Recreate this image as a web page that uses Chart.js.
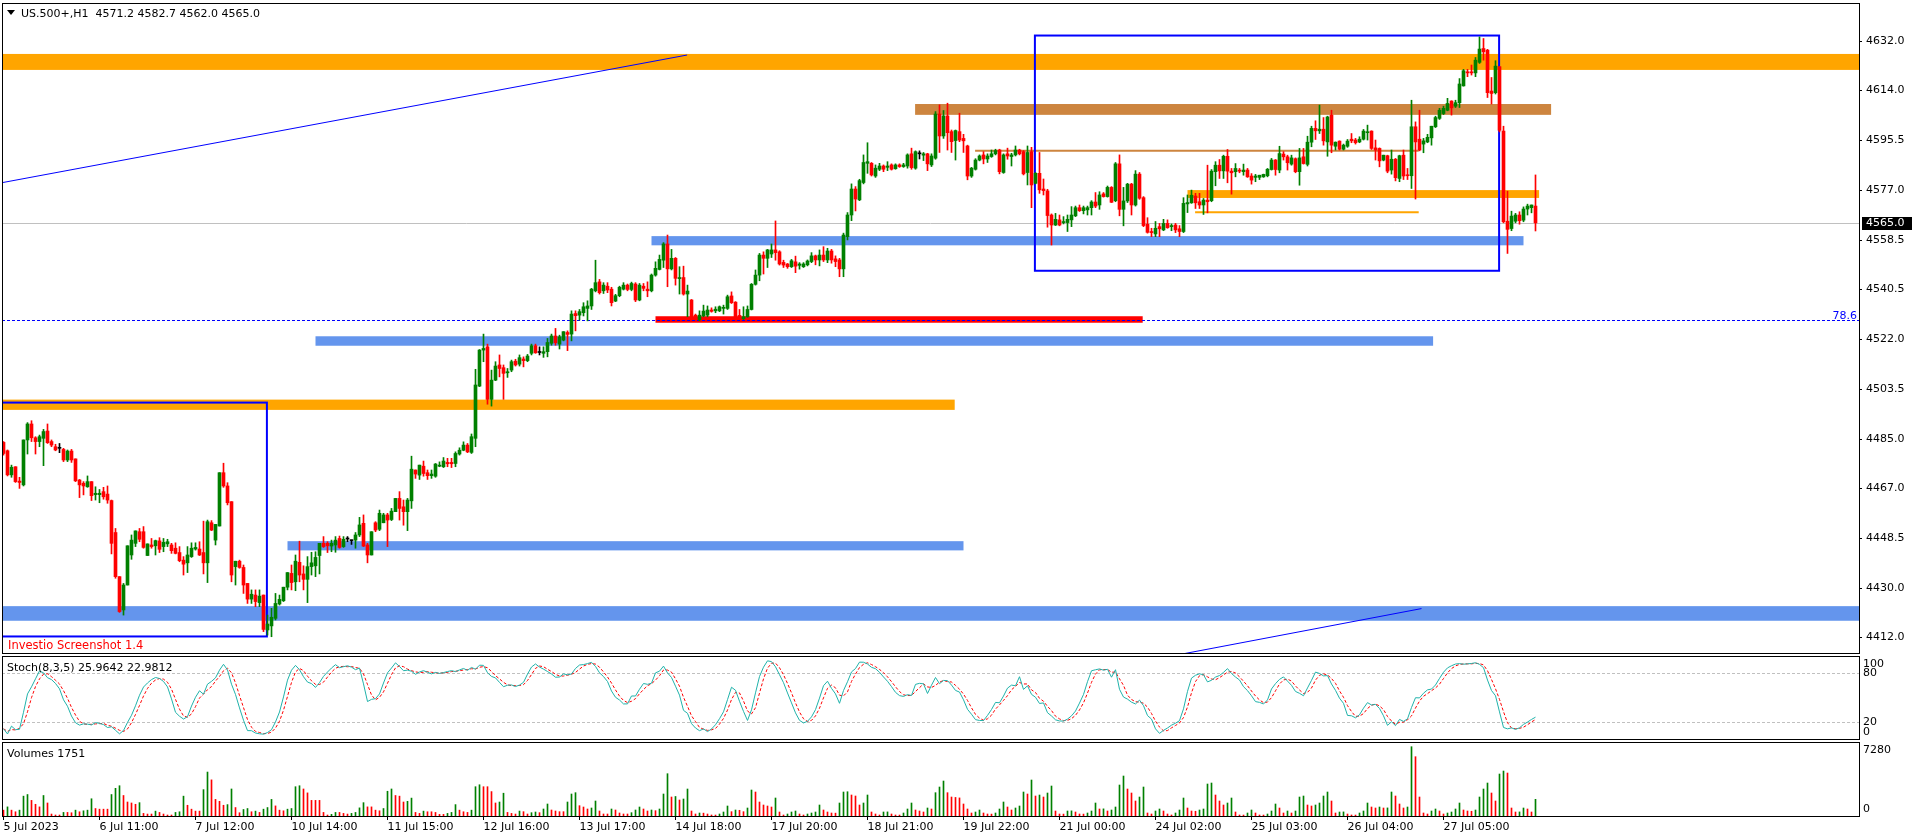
<!DOCTYPE html>
<html>
<head>
<meta charset="utf-8">
<title>US.500+,H1</title>
<script src="https://cdn.jsdelivr.net/npm/chart.js@4.4.1/dist/chart.umd.min.js"></script>
<style>
  html, body { margin: 0; padding: 0; background: #fff; }
  #wrap { position: relative; width: 1916px; height: 840px; overflow: hidden; background: #fff; }
  #wrap canvas { position: absolute; left: 0; }
</style>
</head>
<body>
<div id="wrap">
  <canvas id="priceChart" width="1916" height="655" style="top:0"></canvas>
  <canvas id="stochChart" width="1916" height="87" style="top:654px"></canvas>
  <canvas id="volumeChart" width="1916" height="99" style="top:741px"></canvas>
</div>
<script>
// H1 candles, oldest first: [open, high, low, close]
const candles = [
  [4483.9,4484.2,4479.2,4479.8],[4480.8,4481.1,4471.5,4471.9],[4471.9,4475.5,4471.0,4474.7],[4474.9,4474.9,4469.1,4469.4],
  [4469.6,4471.0,4466.9,4469.1],[4468.2,4484.8,4467.8,4484.8],[4484.8,4491.2,4479.6,4490.7],[4490.7,4491.9,4484.2,4485.6],
  [4485.6,4486.0,4479.6,4484.2],[4484.2,4486.6,4482.3,4486.0],[4485.4,4488.7,4475.3,4487.9],[4488.1,4490.7,4483.5,4483.8],
  [4484.2,4484.8,4482.3,4482.9],[4482.3,4483.2,4480.8,4481.1],[4481.7,4483.5,4480.1,4481.7],[4481.3,4481.7,4476.8,4477.4],
  [4477.4,4481.1,4476.8,4480.7],[4480.7,4481.3,4476.5,4477.4],[4477.8,4477.8,4469.4,4469.7],[4470.0,4470.2,4463.5,4468.2],
  [4468.8,4469.4,4464.5,4467.8],[4467.5,4471.5,4467.3,4469.4],[4469.4,4469.4,4462.4,4464.2],[4464.6,4467.5,4462.6,4465.1],
  [4464.6,4466.5,4461.6,4465.1],[4465.7,4467.3,4462.9,4463.8],[4464.8,4467.8,4461.4,4462.6],[4462.4,4462.6,4442.7,4446.6],
  [4450.6,4452.1,4433.7,4434.3],[4434.3,4434.3,4421.1,4421.4],[4422.0,4431.8,4420.1,4431.2],[4431.2,4445.7,4431.2,4445.7],
  [4442.3,4449.7,4440.7,4447.8],[4446.6,4451.2,4445.4,4451.2],[4450.9,4452.1,4447.2,4448.1],[4450.9,4452.8,4444.8,4445.1],
  [4442.1,4446.4,4442.1,4446.4],[4446.0,4448.4,4444.8,4445.4],[4445.7,4447.8,4442.3,4447.6],[4447.5,4448.7,4443.2,4444.4],
  [4445.4,4448.4,4443.5,4447.0],[4446.4,4448.1,4445.4,4447.2],[4446.0,4446.6,4442.9,4443.9],[4444.8,4446.8,4442.7,4442.9],
  [4443.2,4445.4,4439.8,4440.2],[4440.4,4441.7,4434.9,4438.9],[4439.4,4445.4,4435.8,4442.3],[4441.7,4446.8,4441.4,4444.8],
  [4444.5,4446.8,4444.1,4445.1],[4444.5,4447.2,4442.1,4442.3],[4443.2,4454.8,4435.3,4439.4],[4439.4,4455.2,4432.1,4454.6],
  [4454.2,4455.0,4451.3,4451.5],[4447.8,4453.6,4446.0,4453.6],[4453.0,4472.7,4453.0,4472.7],[4472.7,4476.2,4467.3,4467.8],
  [4467.8,4469.0,4460.8,4461.6],[4462.0,4462.0,4432.4,4434.9],[4438.0,4440.0,4431.2,4440.0],[4440.0,4440.4,4437.4,4437.7],
  [4437.7,4438.6,4428.1,4431.2],[4431.8,4431.8,4424.4,4426.0],[4426.0,4429.4,4424.4,4427.8],[4427.5,4429.4,4423.2,4425.1],
  [4424.7,4429.4,4423.2,4427.1],[4427.5,4427.5,4414.0,4414.8],[4414.6,4420.1,4412.7,4416.8],[4416.1,4422.6,4412.1,4419.3],
  [4418.9,4428.1,4418.3,4424.4],[4424.2,4427.5,4423.8,4425.9],[4425.4,4430.4,4425.1,4430.4],[4430.4,4435.8,4429.4,4435.8],
  [4435.5,4438.6,4429.4,4432.1],[4432.4,4442.3,4429.1,4440.0],[4439.6,4447.4,4432.4,4434.9],[4435.3,4438.3,4429.4,4433.3],
  [4433.3,4441.7,4424.7,4438.0],[4438.0,4443.3,4434.9,4439.4],[4438.3,4443.5,4434.3,4441.4],[4442.1,4446.6,4435.3,4446.6],
  [4446.6,4449.1,4445.1,4445.4],[4446.6,4447.2,4443.2,4445.7],[4445.6,4447.8,4443.5,4446.6],[4446.0,4449.1,4443.3,4447.8],
  [4448.4,4449.3,4444.8,4445.1],[4445.4,4449.1,4445.1,4448.1],[4448.2,4449.1,4447.2,4448.2],[4447.6,4447.8,4446.2,4447.6],
  [4447.8,4450.6,4444.8,4449.7],[4449.7,4456.2,4449.1,4453.4],[4454.0,4457.1,4445.4,4445.6],[4446.0,4446.6,4439.4,4442.3],
  [4442.3,4450.9,4442.3,4450.9],[4454.2,4454.6,4450.9,4451.5],[4451.8,4458.9,4451.3,4457.7],[4454.2,4457.7,4454.2,4457.1],
  [4457.1,4457.7,4445.4,4455.2],[4455.4,4459.5,4455.0,4458.5],[4458.3,4463.2,4458.3,4463.2],[4463.2,4465.7,4455.2,4459.5],
  [4460.1,4462.6,4453.3,4458.3],[4458.3,4463.2,4451.3,4462.6],[4462.3,4478.8,4459.5,4474.0],[4473.7,4473.7,4470.6,4472.2],
  [4471.8,4475.5,4470.2,4475.5],[4475.1,4477.0,4471.4,4472.4],[4472.7,4473.7,4470.2,4471.6],[4471.6,4473.7,4470.6,4472.2],
  [4471.4,4476.1,4471.0,4475.9],[4475.1,4476.7,4474.9,4475.5],[4474.9,4478.3,4474.6,4477.0],[4476.5,4478.0,4474.9,4476.0],
  [4476.5,4478.0,4474.6,4476.0],[4476.1,4480.4,4474.9,4479.8],[4479.6,4481.9,4479.2,4481.0],[4481.0,4484.1,4480.8,4482.9],
  [4482.9,4483.5,4480.1,4480.4],[4480.2,4487.0,4479.8,4486.0],[4485.4,4510.9,4482.3,4505.1],[4504.7,4518.2,4504.5,4518.0],
  [4518.0,4523.9,4513.7,4518.6],[4519.2,4520.2,4498.0,4499.8],[4499.8,4510.6,4497.3,4506.9],[4506.9,4513.7,4506.7,4512.1],
  [4512.5,4516.2,4508.1,4511.2],[4511.5,4512.5,4499.8,4509.4],[4509.6,4511.2,4507.9,4510.0],[4510.6,4514.3,4510.0,4513.7],
  [4513.9,4514.6,4512.1,4512.5],[4512.8,4516.2,4512.1,4515.2],[4514.7,4515.5,4511.8,4514.1],[4514.1,4516.4,4513.7,4515.8],
  [4516.8,4520.2,4516.2,4519.6],[4519.6,4520.2,4516.8,4517.0],[4517.1,4519.2,4516.2,4517.1],[4516.8,4519.2,4515.3,4517.4],
  [4517.4,4522.3,4515.5,4520.8],[4520.5,4523.9,4519.8,4523.2],[4523.2,4526.0,4519.8,4520.7],[4520.2,4523.5,4518.4,4522.9],
  [4521.7,4524.8,4521.4,4524.8],[4524.5,4525.1,4517.8,4523.8],[4523.9,4532.5,4521.4,4531.3],[4531.5,4532.5,4525.1,4530.7],
  [4530.9,4533.0,4529.1,4532.2],[4531.8,4535.5,4530.6,4534.0],[4533.4,4536.2,4528.8,4534.3],[4534.3,4540.8,4533.0,4540.5],
  [4539.9,4551.2,4539.5,4542.9],[4543.2,4544.1,4538.7,4539.2],[4539.9,4542.9,4538.9,4542.0],[4541.6,4542.9,4539.2,4540.2],
  [4540.5,4541.2,4534.3,4535.5],[4536.1,4538.6,4535.9,4538.1],[4538.1,4541.6,4537.7,4541.2],[4540.5,4542.9,4540.2,4542.0],
  [4542.0,4542.4,4539.9,4540.4],[4540.4,4543.1,4539.9,4542.6],[4542.4,4542.9,4535.9,4536.5],[4536.5,4542.6,4536.2,4542.0],
  [4541.6,4542.6,4539.9,4540.8],[4540.5,4543.2,4537.7,4539.9],[4539.9,4546.1,4539.5,4545.7],[4545.7,4550.6,4545.3,4548.2],
  [4547.8,4553.1,4547.6,4551.5],[4551.2,4557.7,4548.5,4557.2],[4557.2,4560.5,4541.4,4548.0],[4548.0,4555.2,4547.6,4551.9],
  [4551.9,4552.2,4542.0,4544.5],[4544.4,4548.8,4538.7,4544.8],[4544.8,4549.0,4538.3,4538.7],[4538.7,4542.0,4530.3,4539.8],
  [4536.5,4536.7,4529.7,4530.3],[4530.9,4531.3,4529.3,4530.3],[4529.3,4532.5,4528.8,4530.9],[4530.6,4534.6,4530.3,4532.4],
  [4530.9,4534.3,4530.3,4532.8],[4532.8,4533.6,4532.0,4532.3],[4532.5,4534.0,4531.8,4533.1],[4532.5,4534.3,4532.2,4534.0],
  [4533.4,4534.6,4531.3,4533.8],[4533.4,4538.3,4533.0,4537.7],[4538.0,4539.5,4535.2,4535.5],[4535.7,4535.9,4529.7,4530.3],
  [4530.8,4533.0,4529.7,4530.1],[4529.6,4534.0,4529.3,4530.3],[4530.3,4534.3,4530.1,4533.0],[4533.0,4542.6,4532.8,4542.3],
  [4542.3,4547.6,4542.0,4545.7],[4545.7,4553.7,4543.6,4553.1],[4553.1,4554.3,4546.1,4551.9],[4551.9,4555.2,4548.5,4555.0],
  [4553.5,4557.2,4552.2,4555.0],[4555.0,4565.7,4551.2,4554.0],[4554.3,4554.7,4549.4,4549.8],[4550.4,4551.2,4548.5,4549.4],
  [4549.8,4550.0,4548.2,4548.8],[4548.8,4551.5,4548.5,4551.0],[4550.6,4552.7,4546.6,4549.0],[4549.3,4550.3,4547.9,4549.8],
  [4548.8,4550.3,4548.5,4549.8],[4549.5,4551.3,4549.1,4550.9],[4550.7,4554.0,4550.3,4552.8],[4552.8,4553.1,4549.5,4551.3],
  [4551.3,4555.0,4549.1,4553.1],[4553.1,4556.2,4550.7,4551.3],[4551.3,4555.6,4550.3,4554.6],[4554.6,4555.2,4550.1,4551.3],
  [4551.7,4552.8,4548.8,4550.7],[4551.3,4551.9,4545.1,4548.0],[4548.0,4561.2,4545.1,4560.5],[4559.9,4568.8,4558.7,4567.9],
  [4567.9,4579.4,4565.8,4577.5],[4577.5,4578.4,4569.4,4573.8],[4573.5,4581.1,4573.2,4580.6],[4579.9,4590.1,4579.4,4587.3],
  [4587.0,4594.6,4583.3,4587.6],[4587.0,4587.3,4582.3,4582.7],[4582.3,4586.4,4581.8,4585.2],[4584.8,4587.0,4584.3,4586.0],
  [4586.0,4586.4,4583.9,4584.8],[4585.5,4587.6,4584.3,4586.0],[4586.4,4586.8,4584.5,4584.8],[4585.0,4586.8,4584.8,4586.4],
  [4586.4,4586.8,4585.5,4585.8],[4585.8,4587.0,4585.5,4586.4],[4586.0,4590.5,4585.2,4590.1],[4590.5,4592.6,4584.8,4585.4],
  [4585.2,4591.6,4584.8,4591.3],[4590.5,4591.6,4588.6,4590.5],[4590.0,4591.0,4588.0,4590.5],[4590.5,4590.7,4584.3,4586.8],
  [4586.4,4590.5,4585.8,4589.7],[4588.9,4606.1,4588.5,4605.2],[4605.2,4608.6,4591.0,4597.1],[4597.1,4606.5,4596.2,4604.5],
  [4604.5,4609.2,4591.9,4598.3],[4598.7,4599.3,4591.0,4595.0],[4595.4,4599.3,4588.2,4599.1],[4598.7,4605.5,4595.0,4595.6],
  [4596.2,4597.7,4591.0,4595.3],[4593.4,4593.7,4580.9,4582.3],[4582.3,4585.5,4581.8,4585.2],[4584.8,4588.7,4584.5,4588.2],
  [4588.2,4590.1,4587.9,4589.7],[4590.1,4591.3,4586.8,4588.6],[4588.6,4590.5,4587.3,4589.7],[4589.5,4591.9,4589.2,4590.5],
  [4590.5,4592.2,4590.1,4591.7],[4591.9,4592.2,4583.1,4583.9],[4583.6,4590.5,4583.3,4590.1],[4590.5,4592.6,4588.5,4589.7],
  [4589.5,4590.7,4586.0,4590.1],[4590.1,4593.4,4589.7,4591.9],[4591.9,4592.2,4590.1,4590.5],[4591.3,4591.7,4582.7,4583.1],
  [4583.6,4593.4,4579.0,4591.0],[4591.3,4592.9,4570.6,4579.0],[4579.6,4583.6,4579.4,4583.3],[4583.3,4591.0,4575.9,4577.2],
  [4577.5,4581.2,4575.3,4576.9],[4576.8,4577.4,4563.4,4567.7],[4567.9,4568.3,4556.8,4564.2],[4564.2,4568.5,4564.0,4566.3],
  [4566.1,4567.9,4563.9,4564.2],[4565.1,4567.3,4564.6,4565.3],[4565.1,4567.9,4561.8,4566.3],[4566.1,4571.0,4563.6,4567.9],
  [4567.6,4571.2,4567.3,4570.6],[4570.6,4571.6,4569.2,4569.5],[4569.5,4571.2,4568.3,4570.6],[4569.8,4571.2,4567.9,4570.6],
  [4570.6,4573.2,4567.9,4572.7],[4572.7,4576.2,4570.6,4571.2],[4571.6,4576.5,4570.0,4575.3],[4575.7,4576.2,4574.5,4574.7],
  [4574.7,4578.6,4574.5,4578.1],[4578.1,4578.4,4572.5,4572.6],[4573.2,4587.3,4572.8,4586.8],[4586.8,4590.1,4567.6,4570.0],
  [4570.0,4578.1,4563.9,4573.1],[4573.1,4579.6,4572.5,4579.3],[4579.3,4579.6,4567.9,4571.6],[4571.6,4584.3,4571.2,4583.0],
  [4583.0,4583.6,4573.7,4574.1],[4574.3,4574.7,4563.6,4564.0],[4564.5,4566.9,4561.2,4561.5],[4561.8,4563.0,4559.9,4561.4],
  [4560.9,4565.5,4559.9,4563.0],[4563.6,4564.8,4559.9,4562.8],[4562.4,4566.3,4562.1,4564.8],[4564.8,4566.1,4563.0,4563.2],
  [4563.6,4564.6,4562.1,4564.0],[4564.2,4564.8,4561.4,4562.4],[4562.8,4564.0,4559.9,4561.8],[4561.8,4574.3,4561.4,4572.2],
  [4572.0,4575.3,4568.8,4572.5],[4572.4,4577.1,4572.2,4575.2],[4574.9,4575.9,4570.3,4572.4],[4572.8,4575.9,4570.3,4571.6],
  [4571.6,4574.0,4568.1,4573.4],[4573.4,4586.3,4568.7,4572.8],[4573.2,4584.7,4572.8,4584.1],[4583.9,4587.6,4578.7,4586.3],
  [4586.3,4588.4,4581.4,4584.2],[4584.2,4590.0,4581.4,4589.6],[4589.6,4592.1,4579.8,4584.1],[4584.1,4585.1,4575.6,4583.5],
  [4583.9,4586.9,4582.0,4585.1],[4584.5,4585.1,4583.5,4584.1],[4583.9,4586.7,4582.6,4584.5],[4584.5,4585.1,4581.8,4582.0],
  [4582.3,4583.2,4579.3,4580.8],[4581.8,4582.9,4580.2,4582.3],[4581.8,4582.6,4581.0,4582.6],[4582.0,4583.0,4581.8,4582.9],
  [4582.4,4585.1,4582.0,4584.8],[4584.7,4588.8,4584.5,4588.2],[4588.2,4588.4,4582.6,4584.7],[4584.5,4593.3,4583.5,4590.6],
  [4590.4,4591.3,4588.2,4589.4],[4589.4,4590.0,4584.5,4587.2],[4586.7,4590.0,4586.3,4589.0],[4588.7,4589.0,4583.5,4583.9],
  [4583.9,4592.5,4578.9,4589.0],[4589.4,4592.5,4586.7,4586.9],[4586.6,4597.0,4586.0,4594.8],[4594.8,4600.7,4593.1,4599.9],
  [4599.9,4602.7,4595.8,4599.0],[4599.0,4608.5,4598.0,4599.6],[4599.6,4603.9,4593.7,4595.3],[4594.9,4604.4,4589.6,4604.1],
  [4604.8,4606.6,4590.9,4593.7],[4593.3,4594.9,4591.9,4594.8],[4595.2,4595.3,4591.9,4592.2],[4592.2,4594.1,4591.9,4593.7],
  [4593.3,4595.8,4592.9,4595.2],[4595.9,4598.0,4594.6,4595.3],[4595.6,4596.2,4594.1,4594.6],[4594.9,4596.8,4594.6,4595.9],
  [4595.9,4599.5,4595.6,4598.9],[4598.3,4601.1,4595.6,4598.4],[4598.9,4599.0,4592.1,4592.5],[4592.7,4595.6,4588.2,4591.9],
  [4592.5,4592.7,4585.7,4587.9],[4588.2,4590.0,4587.9,4590.0],[4589.8,4590.0,4583.5,4584.1],[4584.5,4591.9,4583.0,4588.5],
  [4588.5,4588.8,4580.5,4581.7],[4581.4,4590.0,4580.2,4589.8],[4590.0,4591.9,4581.0,4582.3],[4582.6,4585.1,4581.0,4582.4],
  [4582.4,4610.3,4577.7,4600.5],[4600.5,4602.3,4573.8,4594.9],[4595.9,4606.6,4591.6,4591.9],[4594.1,4596.2,4590.9,4595.3],
  [4594.9,4597.7,4594.6,4596.6],[4596.4,4600.7,4593.7,4600.7],[4600.5,4604.4,4600.2,4603.9],[4603.6,4607.3,4603.2,4606.6],
  [4605.4,4608.1,4605.0,4607.3],[4606.6,4611.0,4606.4,4609.1],[4610.0,4610.1,4604.8,4607.5],[4608.1,4610.3,4607.6,4609.4],
  [4609.4,4618.3,4607.6,4616.3],[4615.6,4621.7,4615.5,4621.2],[4620.8,4621.7,4619.0,4620.4],[4620.8,4623.3,4619.6,4620.4],
  [4620.4,4626.1,4619.0,4625.1],[4624.3,4633.7,4623.9,4629.2],[4629.4,4633.1,4625.1,4628.2],[4628.8,4629.1,4611.3,4613.1],
  [4613.7,4618.7,4608.9,4612.8],[4613.1,4624.9,4612.6,4622.9],[4622.7,4622.7,4598.6,4599.2],[4598.9,4600.7,4565.0,4565.4],
  [4565.6,4576.7,4553.7,4562.6],[4562.9,4569.3,4562.1,4567.5],[4565.6,4568.5,4565.0,4567.9],[4567.9,4569.1,4564.5,4565.8],
  [4566.0,4570.9,4565.4,4570.1],[4570.1,4571.9,4567.9,4571.2],[4570.6,4571.6,4568.7,4571.6],[4571.2,4582.7,4562.0,4565.0]
];

// tick volume per bar
const volumes = [
  615, 957, 615, 445, 615, 2086, 2257, 1641, 1231, 957,
  2154, 1368, 205, 103, 103, 376, 376, 342, 615, 445,
  547, 615, 1812, 786, 718, 718, 718, 2257, 2907, 3180,
  2154, 1470, 1368, 1231, 1402, 274, 205, 205, 513, 376,
  205, 103, 103, 376, 445, 2086, 1129, 718, 513, 513,
  2770, 4617, 3796, 1744, 1539, 1129, 1197, 2839, 889, 342,
  684, 786, 445, 513, 376, 718, 889, 1744, 1060, 615,
  547, 718, 786, 3078, 3180, 2839, 2428, 1641, 1641, 1641,
  376, 103, 171, 376, 376, 274, 205, 274, 376, 855,
  1402, 957, 957, 615, 547, 786, 2599, 2839, 2154, 2086,
  1470, 1539, 1881, 376, 274, 513, 445, 445, 376, 171,
  171, 274, 376, 1197, 615, 445, 376, 615, 3078, 3283,
  3078, 3078, 2565, 1368, 1470, 2394, 376, 274, 205, 520,
  455, 210, 350, 420, 350, 735, 1260, 630, 525, 455,
  455, 1470, 2310, 2450, 1085, 945, 735, 840, 1575, 525,
  210, 210, 735, 630, 315, 210, 210, 350, 630, 945,
  735, 525, 630, 560, 735, 2310, 4445, 1995, 2050, 1680,
  1785, 2835, 525, 210, 315, 300, 210, 105, 100, 210,
  420, 1050, 455, 630, 600, 455, 840, 2730, 2520, 1470,
  1155, 1050, 945, 1890, 420, 105, 210, 420, 525, 210,
  105, 210, 315, 420, 1155, 630, 420, 315, 300, 1365,
  2520, 2550, 2205, 2100, 1155, 1365, 2205, 420, 210, 105,
  420, 430, 210, 105, 100, 315, 735, 1365, 630, 525,
  420, 840, 735, 2450, 3045, 3675, 2450, 1995, 1950, 1900,
  1260, 735, 315, 420, 630, 315, 210, 200, 315, 735,
  1470, 945, 630, 840, 1050, 2520, 2310, 3780, 2100, 2205,
  1995, 2415, 3150, 525, 210, 200, 525, 540, 420, 210,
  200, 315, 525, 1365, 735, 750, 525, 630, 945, 3255,
  4200, 2835, 2415, 1575, 1995, 3045, 315, 210, 525, 735,
  525, 210, 105, 315, 630, 1890, 840, 525, 500, 630,
  735, 3360, 3465, 2205, 1575, 1155, 1365, 1890, 420, 105,
  100, 315, 630, 315, 105, 100, 210, 525, 1260, 840,
  315, 525, 315, 525, 1995, 2100, 1155, 1050, 1155, 1365,
  2100, 2520, 1575, 315, 420, 430, 210, 105, 100, 315,
  525, 1365, 945, 840, 945, 840, 850, 2520, 2100, 1260,
  840, 945, 7280, 6230, 1995, 315, 210, 525, 735, 525,
  210, 315, 420, 735, 1365, 630, 525, 500, 630, 1995,
  2835, 3465, 2415, 1575, 4410, 4725, 4515, 840, 420, 430,
  840, 735, 420, 1751
];

// time axis: label text and the bar it sits on
const timeLabels = ["5 Jul 2023", "6 Jul 11:00", "7 Jul 12:00", "10 Jul 14:00", "11 Jul 15:00", "12 Jul 16:00",
  "13 Jul 17:00", "14 Jul 18:00", "17 Jul 20:00", "18 Jul 21:00", "19 Jul 22:00", "21 Jul 00:00",
  "24 Jul 02:00", "25 Jul 03:00", "26 Jul 04:00", "27 Jul 05:00"];
const timeLabelBars = [0, 24, 48, 72, 96, 120, 144, 168, 192, 216, 240, 264, 288, 312, 336, 360];

const priceTicks = [4632.0, 4614.0, 4595.5, 4577.0, 4558.5, 4540.5, 4522.0, 4503.5, 4485.0, 4467.0, 4448.5, 4430.0, 4412.0];
const stochTicks = [100, 80, 20, 0];
const stochLevels = [80, 20];
const volumeTicks = [7280, 0];

// drawn objects, in bar index / price units (null = chart edge)
const orangeZones = [[null, null, 4621.5, 4627.4], [null, 237.8, 4495.9, 4499.7], [296, 383.9, 4574.2, 4577.1]];
const blueZones = [[null, null, 4418.0, 4423.4], [71, 240, 4444.0, 4447.4], [78, 357.4, 4519.6, 4523.1], [162, 380, 4556.7, 4560.1]];
const brownZones = [[227.9, 386.9, 4604.9, 4608.9]];
const redZones = [[163, 284.8, 4528.1, 4530.5]];
const brownLines = [[242.9, 353.8, 4591.6]];
const orangeLines = [[297.9, 353.8, 4568.9]];
const boxes = [[257.85, 373.9, 4547.3, 4634.2], [-3, 65.85, 4412.2, 4498.6]];
const trendLines = [[-0.875, 4579.7, 170.9, 4627.0], [280, 4401.6, 354.5, 4422.5]];
const fibLevel = [4529.0, "78.6"];

const X_MIN = -0.375, X_MAX = 463.875;
const FONT = { family: "'DejaVu Sans', sans-serif", size: 11 };
const UP = '#008000', DOWN = '#FF0000';

Chart.defaults.font.family = FONT.family;
Chart.defaults.font.size = FONT.size;
Chart.defaults.color = '#000';

const candleColors = candles.map(c => c[3] > c[0] ? UP : c[3] < c[0] ? DOWN : '#000');
const volumeColors = volumes.map((v, i) => i > 0 && v > volumes[i - 1] ? UP : DOWN);

function stochastic(kPeriod, dPeriod, slowing) {
    const hh = [], ll = [], main = [], signal = [];
    candles.forEach((c, i) => {
        const win = candles.slice(Math.max(0, i - kPeriod + 1), i + 1);
        hh.push(Math.max(...win.map(w => w[1])));
        ll.push(Math.min(...win.map(w => w[2])));
        let num = 0, den = 0;
        for (let j = Math.max(0, i - slowing + 1); j <= i; j++) {
            num += candles[j][3] - ll[j];
            den += hh[j] - ll[j];
        }
        main.push(den ? num / den * 100 : 100);
        const m = main.slice(Math.max(0, i - dPeriod + 1));
        signal.push(m.reduce((a, b) => a + b, 0) / m.length);
    });
    return { main, signal };
}
const stoch = stochastic(8, 3, 5);

function frame(chart) {
    const { ctx, chartArea: a } = chart;
    ctx.save();
    ctx.strokeStyle = '#000';
    ctx.lineWidth = 1;
    const l = Math.floor(a.left), t = Math.floor(a.top), r = Math.floor(a.right), b = Math.floor(a.bottom);
    ctx.strokeRect(l + 0.5, t + 0.5, r - l, b - t);
    ctx.restore();
}

function text(ctx, str, x, y, color, size) {
    ctx.fillStyle = color || '#000';
    ctx.font = `${size || 11}px ${FONT.family}`;
    ctx.textBaseline = 'alphabetic';
    ctx.textAlign = 'left';
    ctx.fillText(str, x, y);
}

// right-hand labels of the small panels, kept inside the panel like MT4 does
function panelLabels(chart, ticks) {
    const { ctx, chartArea: a, scales: { y } } = chart;
    ctx.save();
    ctx.font = `11px ${FONT.family}`;
    ctx.fillStyle = '#000';
    ctx.textBaseline = 'middle';
    ctx.textAlign = 'left';
    ticks.forEach(v => {
        const py = Math.min(Math.max(y.getPixelForValue(v), a.top + 8), a.bottom - 7);
        ctx.fillText(String(v), a.right + 4, py);
    });
    ctx.restore();
}

const xAxis = (extra) => Object.assign({
    type: 'linear', min: X_MIN, max: X_MAX, offset: false, display: false,
    grid: { offset: false }
}, extra);

const rightAxisStub = (min, max) => ({
    position: 'right', min, max, display: true,
    ticks: { display: false }, grid: { display: false }, border: { display: false },
    afterFit: s => { s.width = 57; s.paddingTop = 0; s.paddingBottom = 0; }
});

const priceOverlay = {
    id: 'priceOverlay',
    beforeDatasetsDraw(chart) {
        const { ctx, chartArea: a, scales: { x, y } } = chart;
        const px = (v, edge) => v === null ? edge : x.getPixelForValue(v);
        ctx.save();
        ctx.beginPath();
        ctx.rect(a.left, a.top, a.right - a.left, a.bottom - a.top);
        ctx.clip();

        // bid line
        const bid = Math.round(y.getPixelForValue(candles[candles.length - 1][3])) + 0.5;
        ctx.strokeStyle = '#C0C0C0';
        ctx.lineWidth = 1;
        ctx.beginPath(); ctx.moveTo(a.left, bid); ctx.lineTo(a.right, bid); ctx.stroke();

        const zones = (list, color) => list.forEach(z => {
            const l = px(z[0], a.left), r = px(z[1], a.right);
            const t = y.getPixelForValue(z[3]), b = y.getPixelForValue(z[2]);
            ctx.fillStyle = color;
            ctx.fillRect(l, t, r - l, b - t);
        });
        zones(blueZones, '#6495ED');
        zones(orangeZones, '#FFA500');
        zones(brownZones, '#CD853F');
        zones(redZones, '#FF0000');

        const hLines = (list, color) => list.forEach(h => {
            const py = y.getPixelForValue(h[2]);
            ctx.strokeStyle = color;
            ctx.lineWidth = 2;
            ctx.beginPath(); ctx.moveTo(px(h[0]), py); ctx.lineTo(px(h[1]), py); ctx.stroke();
        });
        hLines(brownLines, '#CD853F');
        hLines(orangeLines, '#FFA500');

        // fibonacci level
        const fy = Math.round(y.getPixelForValue(fibLevel[0])) + 0.5;
        ctx.strokeStyle = '#0000FF';
        ctx.lineWidth = 1;
        ctx.setLineDash([3, 2]);
        ctx.beginPath(); ctx.moveTo(a.left, fy); ctx.lineTo(a.right, fy); ctx.stroke();
        ctx.setLineDash([]);

        boxes.forEach(bx => {
            const l = px(bx[0]), r = px(bx[1]);
            const t = y.getPixelForValue(bx[3]), b = y.getPixelForValue(bx[2]);
            ctx.strokeStyle = '#0000FF';
            ctx.lineWidth = 2;
            ctx.strokeRect(l, t, r - l, b - t);
        });

        trendLines.forEach(tl => {
            ctx.strokeStyle = '#0000FF';
            ctx.lineWidth = 1;
            ctx.beginPath();
            ctx.moveTo(px(tl[0]), y.getPixelForValue(tl[1]));
            ctx.lineTo(px(tl[2]), y.getPixelForValue(tl[3]));
            ctx.stroke();
        });
        ctx.restore();

        ctx.save();
        ctx.font = `11px ${FONT.family}`;
        ctx.fillStyle = '#0000FF';
        ctx.textAlign = 'right';
        ctx.textBaseline = 'alphabetic';
        ctx.fillText(fibLevel[1], a.right - 2, fy - 2);
        ctx.restore();
    },
    afterDraw(chart) {
        const { ctx, chartArea: a, scales: { y } } = chart;
        frame(chart);
        ctx.save();
        // symbol header
        ctx.fillStyle = '#000';
        ctx.beginPath(); ctx.moveTo(7, 10); ctx.lineTo(15, 10); ctx.lineTo(11, 15); ctx.closePath(); ctx.fill();
        const last = candles[candles.length - 1];
        text(ctx, `US.500+,H1  ${last.map(v => v.toFixed(1)).join(' ')}`, 21, 17, '#000', 11);
        text(ctx, 'Investio Screenshot 1.4', 8, 649, '#FF0000', 11.5);
        // last price box
        const py = y.getPixelForValue(last[3]);
        ctx.fillStyle = '#000';
        ctx.fillRect(a.right + 3, Math.round(py) - 6, 50, 13);
        ctx.fillStyle = '#fff';
        ctx.font = `11px ${FONT.family}`;
        ctx.textBaseline = 'middle';
        ctx.textAlign = 'left';
        ctx.fillText(last[3].toFixed(1), a.right + 7, py + 0.5);
        ctx.restore();
    }
};

const stochOverlay = {
    id: 'stochOverlay',
    beforeDatasetsDraw(chart) {
        const { ctx, chartArea: a, scales: { y } } = chart;
        ctx.save();
        ctx.strokeStyle = '#C0C0C0';
        ctx.lineWidth = 1;
        ctx.setLineDash([3, 2]);
        stochLevels.forEach(v => {
            const py = Math.round(y.getPixelForValue(v)) + 0.5;
            ctx.beginPath(); ctx.moveTo(a.left, py); ctx.lineTo(a.right, py); ctx.stroke();
        });
        ctx.restore();
    },
    afterDraw(chart) {
        frame(chart);
        text(chart.ctx, 'Stoch(8,3,5) 25.9642 22.9812', 7, 671 - 654, '#000', 11);
        panelLabels(chart, stochTicks);
    }
};

const volumeOverlay = {
    id: 'volumeOverlay',
    afterDraw(chart) {
        frame(chart);
        text(chart.ctx, `Volumes ${volumes[volumes.length - 1]}`, 7, 757 - 741, '#000', 11);
        panelLabels(chart, volumeTicks);
    }
};

const common = {
    responsive: false,
    animation: false,
    devicePixelRatio: 1,
    events: [],
    plugins: { legend: { display: false }, tooltip: { enabled: false } }
};

new Chart(document.getElementById('priceChart'), {
    type: 'bar',
    data: {
        datasets: [
            {
                label: 'wicks',
                data: candles.map((c, i) => ({ x: i, y: [c[2], c[1]] })),
                backgroundColor: ctx => candleColors[ctx.dataIndex],
                barThickness: 1, grouped: false, borderWidth: 0, minBarLength: 1
            },
            {
                label: 'bodies',
                data: candles.map((c, i) => ({ x: i, y: [c[0], c[3]] })),
                backgroundColor: ctx => candleColors[ctx.dataIndex],
                barThickness: 3, grouped: false, borderWidth: 0, minBarLength: 1
            }
        ]
    },
    options: Object.assign({}, common, {
        layout: { padding: { left: 2, top: 3, bottom: 2, right: 0 } },
        scales: {
            x: xAxis(),
            y: {
                position: 'right', min: 4406.09, max: 4646.22,
                afterBuildTicks: s => { s.ticks = priceTicks.map(v => ({ value: v })); },
                afterFit: s => { s.width = 57; s.paddingTop = 0; s.paddingBottom = 0; },
                ticks: { autoSkip: false, padding: 4, color: '#000', font: FONT, callback: v => v.toFixed(1) },
                grid: { drawOnChartArea: false, drawTicks: true, tickLength: 3, color: '#000' },
                border: { display: false }
            }
        }
    }),
    plugins: [priceOverlay]
});

new Chart(document.getElementById('stochChart'), {
    type: 'line',
    data: {
        datasets: [
            {
                label: 'Main',
                data: stoch.main.map((v, i) => ({ x: i, y: v })),
                borderColor: '#20B2AA', borderWidth: 1, pointRadius: 0, tension: 0
            },
            {
                label: 'Signal',
                data: stoch.signal.map((v, i) => ({ x: i, y: v })),
                borderColor: '#FF0000', borderWidth: 1, borderDash: [3, 2], pointRadius: 0, tension: 0
            }
        ]
    },
    options: Object.assign({}, common, {
        layout: { padding: { left: 2, top: 2, bottom: 2, right: 0 } },
        scales: { x: xAxis(), y: rightAxisStub(-0.5, 100.85) }
    }),
    plugins: [stochOverlay]
});

new Chart(document.getElementById('volumeChart'), {
    type: 'bar',
    data: {
        datasets: [{
            label: 'Volumes',
            data: volumes.map((v, i) => ({ x: i, y: v })),
            backgroundColor: ctx => volumeColors[ctx.dataIndex],
            barThickness: 1, borderWidth: 0
        }]
    },
    options: Object.assign({}, common, {
        layout: { padding: { left: 2, top: 1, bottom: 0, right: 0 } },
        scales: {
            x: xAxis({
                display: true,
                afterBuildTicks: s => { s.ticks = timeLabelBars.map(v => ({ value: v })); },
                afterFit: s => { s.height = 24; s.paddingLeft = 0; s.paddingRight = 0; },
                ticks: {
                    autoSkip: false, maxRotation: 0, minRotation: 0, align: 'start', padding: 1,
                    color: '#000', font: FONT, callback: (v, i) => timeLabels[i]
                },
                grid: { offset: false, drawOnChartArea: false, drawTicks: true, tickLength: 4, color: '#000' },
                border: { display: false }
            }),
            y: rightAxisStub(0, 7774)
        }
    }),
    plugins: [volumeOverlay]
});
</script>
</body>
</html>
